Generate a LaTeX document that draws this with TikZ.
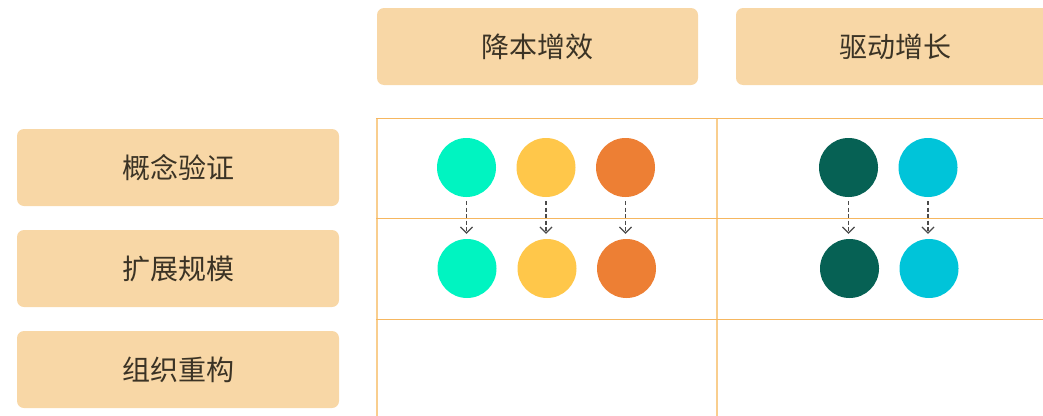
\documentclass[tikz,border=0pt]{standalone}
\usepackage{fontspec}
\setmainfont{Noto Sans CJK SC}
\usetikzlibrary{arrows.meta}
\definecolor{boxfill}{HTML}{F8D7A6}
\definecolor{txt}{HTML}{3B3325}
\definecolor{gridh}{HTML}{F6B760}
\definecolor{gridv}{HTML}{F9CE8E}
\definecolor{cTeal}{HTML}{00F4C1}
\definecolor{cYellow}{HTML}{FFC74A}
\definecolor{cOrange}{HTML}{ED7F34}
\definecolor{cDark}{HTML}{066154}
\definecolor{cCyan}{HTML}{00C4D9}
\definecolor{arrgray}{HTML}{4A4A4A}
\tikzset{
  labelbox/.style={fill=boxfill, draw=none, rounded corners=7pt, inner sep=0pt,
    text=txt, font=\fontsize{28}{30}\selectfont},
  dot/.style={circle, draw=none, inner sep=0pt, minimum size=59pt},
  flowarr/.style={draw=arrgray, line width=1.2pt, dash pattern=on 4pt off 2.5pt,
    -{Straight Barb[length=6pt,width=12pt,line width=1.2pt]}, shorten <=4pt, shorten >=5pt},
  hline/.style={draw=gridh, line width=1pt},
  vline/.style={draw=gridv, line width=1.8pt}
}
\begin{document}
\begin{tikzpicture}[x=1pt,y=-1pt]
\useasboundingbox (0,0) rectangle (1043,415);
\clip (0,0) rectangle (1043,415);
% header boxes
\node[labelbox, minimum width=321pt, minimum height=77pt] (h1) at (537.5,46.5) {降本增效};
\fill[boxfill, rounded corners=7pt] (736,8) rectangle (1080,85);
\node[text=txt, font=\fontsize{28}{30}\selectfont, inner sep=0pt] (h2) at (895,46.5) {驱动增长};
% row boxes
\node[labelbox, minimum width=322pt, minimum height=77pt] (r1) at (178,167.5) {概念验证};
\node[labelbox, minimum width=322pt, minimum height=77pt] (r2) at (178,268.5) {扩展规模};
\node[labelbox, minimum width=322pt, minimum height=77pt] (r3) at (178,369.5) {组织重构};
% grid
\draw[vline] (377,118) -- (377,420);
\draw[vline] (717,118) -- (717,420);
\draw[hline] (376,118) -- (1050,118);
\draw[hline] (376,218.5) -- (1050,218.5);
\draw[hline] (376,319.5) -- (1050,319.5);
% dots row 1
\node[dot, fill=cTeal] (a1) at (466.5,167.5) {};
\node[dot, fill=cYellow] (b1) at (546,167.5) {};
\node[dot, fill=cOrange] (c1) at (625.5,167.5) {};
\node[dot, fill=cDark] (d1) at (848.5,167.5) {};
\node[dot, fill=cCyan] (e1) at (928,167.5) {};
% dots row 2
\node[dot, fill=cTeal] (a2) at (467,268.5) {};
\node[dot, fill=cYellow] (b2) at (547,268.5) {};
\node[dot, fill=cOrange] (c2) at (626.5,268.5) {};
\node[dot, fill=cDark] (d2) at (849.5,268.5) {};
\node[dot, fill=cCyan] (e2) at (929,268.5) {};
% arrows
\foreach \n in {a,b,c,d,e}{
  \draw[flowarr] (\n1.south) -- (\n1.south |- \n2.north);
}
\end{tikzpicture}
\end{document}
